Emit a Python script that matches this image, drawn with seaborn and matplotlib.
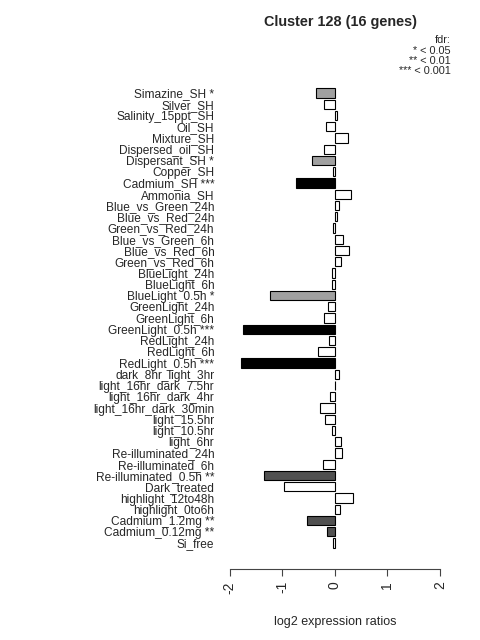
import matplotlib
matplotlib.use("Agg")
import matplotlib.pyplot as plt
import seaborn as sns
import pandas as pd

# Conditions (top to bottom) and their log2 ratios
conditions = [
    "Simazine_SH *", "Silver_SH", "Salinity_15ppt_SH", "Oil_SH", "Mixture_SH",
    "Dispersed_oil_SH", "Dispersant_SH *", "Copper_SH", "Cadmium_SH ***", "Ammonia_SH",
    "Blue_vs_Green_24h", "Blue_vs_Red_24h", "Green_vs_Red_24h", "Blue_vs_Green_6h",
    "Blue_vs_Red_6h", "Green_vs_Red_6h", "BlueLight_24h", "BlueLight_6h",
    "BlueLight_0.5h *", "GreenLight_24h", "GreenLight_6h", "GreenLight_0.5h ***",
    "RedLight_24h", "RedLight_6h", "RedLight_0.5h ***", "dark_8hr_light_3hr",
    "light_16hr_dark_7.5hr", "light_16hr_dark_4hr", "light_16hr_dark_30min",
    "light_15.5hr", "light_10.5hr", "light_6hr", "Re-illuminated_24h",
    "Re-illuminated_6h", "Re-illuminated_0.5h **", "Dark_treated",
    "highlight_12to48h", "highlight_0to6h", "Cadmium_1.2mg **", "Cadmium_0.12mg **",
    "Si_free",
]
log2_ratios = [
    -0.36, -0.20, 0.04, -0.16, 0.26,
    -0.20, -0.43, -0.04, -0.73, 0.30,
    0.076, 0.045, -0.03, 0.16,
    0.27, 0.12, -0.06, -0.05,
    -1.23, -0.13, -0.21, -1.74,
    -0.11, -0.32, -1.78, 0.076,
    0.01, -0.10, -0.285,
    -0.18, -0.05, 0.12, 0.13,
    -0.22, -1.35, -0.96,
    0.355, 0.09, -0.53, -0.15,
    -0.04,
]

# fill colour by significance level (number of stars)
star_colors = {0: "white", 1: "#A0A0A0", 2: "#505050", 3: "black"}

def n_stars(label):
    return label.count("*")

df = pd.DataFrame({"condition": conditions, "ratio": log2_ratios})
palette = {c: star_colors[n_stars(c)] for c in conditions}

sns.set_style("white")
plt.rcParams["font.family"] = ["Liberation Sans", "DejaVu Sans"]

fig = plt.figure(figsize=(4.8, 6.4), dpi=100)
ax = fig.add_axes([0.461, 0.141, 0.473, 0.7242])

sns.barplot(data=df, x="ratio", y="condition", hue="condition", palette=palette,
            legend=False, orient="h", width=0.83, edgecolor="black", linewidth=0.8,
            ax=ax)

ax.set_xlim(-2.16, 2.16)
ax.set_ylim(len(conditions) - 1 + 0.6, -0.6)
ax.set_xticks([-2, -1, 0, 1, 2])
ax.set_xticklabels(["-2", "-1", "0", "1", "2"], fontsize=9)
ax.tick_params(axis="x", length=5, width=0.8, color="#444444", pad=3.5, bottom=True,
               labelrotation=90)
ax.tick_params(axis="y", length=0, labelsize=8.6, pad=5)
ax.set_ylabel("")
ax.set_xlabel("log2 expression ratios", fontsize=9, labelpad=16)

for side in ["left", "top", "right"]:
    ax.spines[side].set_visible(False)
ax.spines["bottom"].set_position(("outward", 14))
ax.spines["bottom"].set_bounds(-2, 2)
ax.spines["bottom"].set_color("#444444")
ax.spines["bottom"].set_linewidth(0.8)

fig.text(340 / 480, 1 - 22 / 640, "Cluster 128 (16 genes)", ha="center", va="center",
         fontsize=10.4, fontweight="bold")
legend_lines = ["fdr:", "* < 0.05", "** < 0.01", "*** < 0.001"]
for i, line in enumerate(legend_lines):
    fig.text(451 / 480, 1 - (40 + 10.5 * i) / 640, line, ha="right", va="center",
             fontsize=7.8)

fig.savefig("out.png", dpi=100)
